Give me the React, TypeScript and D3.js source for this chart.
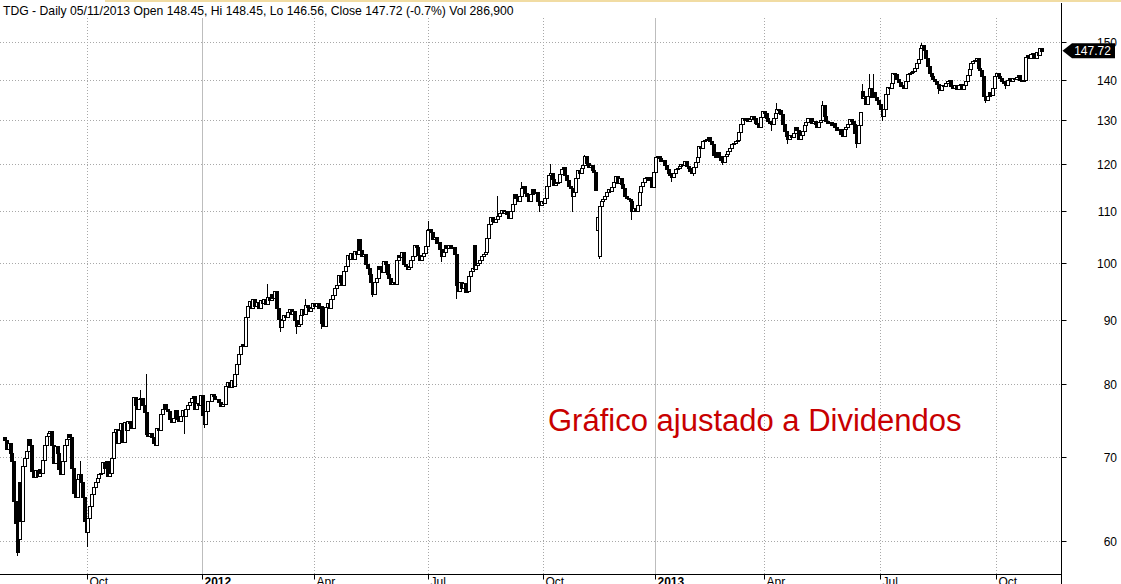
import { useEffect, useRef } from "react";
import * as d3 from "d3";

// Daily closes (dividend adjusted), one array per calendar month
const jul11 = [72.2, 71.0];
const aug11 = [71.8, 70.5, 69.5, 64.5, 62.0, 58.8, 66.8, 62.2, 68.8, 69.8, 70.8, 72.3, 71.5, 68.2, 67.5, 68.3, 67.6, 68.4, 68.0, 69.6, 71.6, 72.8, 73.2];
const sep11 = [73.4, 71.6, 69.2, 71.4, 70.5, 68.5, 67.8, 69.5, 71.5, 72.4, 73.0, 72.6, 68.6, 65.5, 65.0, 67.2, 67.8, 66.8, 65.0, 62.2, 61.0];
const oct11 = [62.5, 64.0, 65.4, 66.2, 66.8, 67.3, 67.8, 67.9, 69.3, 68.6, 69.5, 67.6, 67.9, 69.8, 73.3, 73.7, 71.8, 73.5, 74.5, 72.0, 74.6];
const nov11 = [73.5, 74.8, 74.5, 73.8, 78.2, 77.0, 76.5, 77.8, 78.0, 77.0, 76.0, 73.0, 72.8, 73.2, 72.6, 71.8, 71.5, 73.8, 73.6, 75.8, 76.5];
const dec11 = [77.2, 76.5, 76.2, 75.0, 74.6, 75.2, 76.3, 75.0, 74.8, 75.5, 76.3, 75.5, 76.5, 77.0, 77.4, 78.0, 78.3, 76.4, 77.3, 77.0, 78.5];
const jan12 = [75.6, 74.4, 76.2, 77.6, 77.5, 78.6, 78.3, 77.8, 77.9, 77.4, 76.8, 77.1, 77.2, 79.8, 80.4, 79.6, 80.6, 79.8, 81.5, 83.0];
const feb12 = [84.5, 85.8, 86.2, 85.9, 90.5, 92.4, 93.2, 92.0, 93.6, 92.4, 93.0, 92.0, 93.4, 92.8, 93.5, 92.7, 94.0, 93.4, 94.5, 93.8];
const mar12 = [95.0, 92.0, 90.2, 88.8, 90.0, 90.8, 90.6, 91.3, 91.8, 91.0, 91.6, 90.0, 89.0, 89.3, 90.8, 91.8, 91.0, 92.6, 92.2, 91.5, 92.0, 92.9];
const apr12 = [92.3, 92.8, 92.0, 92.4, 89.5, 89.0, 92.2, 92.8, 92.0, 93.6, 94.3, 95.5, 96.0, 97.8, 96.5, 96.0, 98.6, 99.5, 101.4, 100.8];
const may12 = [101.8, 100.8, 102.2, 101.6, 104.5, 102.3, 101.2, 101.6, 99.8, 99.0, 98.0, 96.5, 94.4, 96.5, 97.3, 99.5, 98.8, 98.4, 100.3, 99.8, 98.0, 97.2];
const jun12 = [96.2, 96.6, 96.2, 100.6, 101.5, 101.0, 102.0, 99.8, 99.5, 98.8, 99.2, 100.6, 101.2, 103.3, 103.0, 101.4, 100.6, 101.2, 101.8, 103.2, 106.2];
const jul12 = [106.5, 105.8, 104.4, 104.8, 103.8, 104.0, 102.5, 101.2, 102.0, 103.4, 102.8, 103.3, 102.8, 103.0, 101.6, 96.0, 95.0, 96.6, 95.5, 96.4, 94.8];
const aug12 = [95.0, 97.6, 98.5, 99.0, 98.8, 99.6, 100.0, 100.6, 101.2, 101.6, 102.0, 104.6, 107.5, 108.8, 108.0, 107.8, 108.3, 109.0, 109.6, 110.2, 109.5, 110.0, 109.4];
const sep12 = [108.6, 110.0, 111.4, 113.4, 112.6, 112.0, 113.0, 114.8, 115.2, 113.6, 113.0, 112.0, 113.5, 114.5, 113.8, 114.0, 112.0, 111.2, 112.0];
const oct12 = [111.6, 112.6, 115.2, 117.6, 118.0, 116.6, 115.4, 115.8, 116.0, 117.8, 118.8, 119.2, 117.6, 116.5, 115.2, 114.8, 113.0, 114.0, 116.8, 118.6, 118.0];
const nov12 = [119.0, 119.8, 121.6, 120.2, 119.2, 119.6, 118.6, 118.2, 114.3, 108.8, 111.0, 112.0, 112.4, 113.0, 114.0, 114.6, 114.2, 115.0, 116.0, 117.4, 115.8];
const dec12 = [116.8, 115.6, 114.8, 113.0, 112.6, 112.4, 112.0, 110.0, 110.6, 110.0, 111.2, 114.0, 115.2, 116.0, 116.8, 117.2, 116.4, 117.0, 115.0, 118.2];
const jan13 = [121.4, 121.8, 121.2, 120.6, 120.8, 119.8, 118.8, 118.0, 117.6, 117.0, 118.0, 118.8, 119.0, 119.4, 120.0, 119.8, 120.5, 119.4, 119.0, 118.4, 118.0];
const feb13 = [119.2, 120.4, 121.4, 124.0, 123.6, 125.0, 125.4, 125.6, 126.0, 125.0, 124.4, 122.0, 121.4, 122.6, 121.6, 120.8, 120.4, 121.6, 122.2];
const mar13 = [122.8, 123.4, 124.4, 124.6, 125.0, 125.4, 127.2, 129.0, 130.6, 130.0, 130.6, 129.8, 130.2, 131.0, 130.4, 129.4, 129.0, 128.4, 130.8, 132.2];
const apr13 = [131.8, 130.6, 129.8, 129.2, 129.0, 130.6, 131.6, 132.8, 132.4, 131.4, 129.0, 127.4, 126.2, 125.6, 126.6, 126.0, 127.0, 128.4, 127.6, 125.6, 126.6, 127.4];
const may13 = [128.8, 129.6, 130.4, 130.6, 129.2, 129.8, 129.0, 128.4, 129.6, 130.0, 133.6, 131.0, 129.8, 129.4, 129.6, 128.8, 129.2, 128.4, 127.6, 127.8, 126.8, 126.2];
const jun13 = [127.8, 128.4, 129.0, 130.2, 129.8, 129.0, 127.0, 124.6, 128.8, 132.0, 135.4, 135.8, 134.0, 136.0, 137.8, 135.6, 136.8, 135.6, 135.0, 133.8];
const jul13 = [132.6, 131.0, 132.8, 136.4, 138.2, 138.0, 139.2, 141.8, 141.6, 140.2, 139.4, 138.4, 138.6, 138.0, 139.6, 141.6, 141.8, 142.0, 142.4, 143.2, 144.4, 145.4];
const aug13 = [148.4, 149.3, 148.0, 145.6, 143.6, 141.8, 141.0, 140.2, 139.6, 139.0, 138.0, 137.4, 138.6, 138.4, 139.2, 139.6, 140.0, 138.4, 137.8, 138.6, 137.6, 138.8];
const sep13 = [139.0, 137.6, 138.6, 139.6, 141.2, 142.8, 144.4, 145.0, 145.2, 145.6, 143.0, 142.6, 141.0, 136.0, 135.0, 135.8, 136.8, 136.2, 138.0, 141.0];
const oct13 = [141.8, 141.0, 140.4, 139.8, 139.2, 138.6, 140.0, 140.6, 139.8, 140.4, 140.2, 140.8, 141.2, 140.0, 139.6, 140.0, 146.0, 146.6, 145.8, 146.8, 147.0, 145.8, 147.4];
const nov13 = [146.6, 148.3, 147.72];

const months = [jul11, aug11, sep11, oct11, nov11, dec11, jan12, feb12, mar12, apr12, may12, jun12,
  jul12, aug12, sep12, oct12, nov12, dec12, jan13, feb13, mar13, apr13, may13, jun13,
  jul13, aug13, sep13, oct13, nov13];
const monthLabels = ["Jul", "Aug", "Sep", "Oct", "Nov", "Dec", "2012", "Feb", "Mar", "Apr", "May", "Jun",
  "Jul", "Aug", "Sep", "Oct", "Nov", "Dec", "2013", "Feb", "Mar", "Apr", "May", "Jun",
  "Jul", "Aug", "Sep", "Oct", "Nov"];

// [bar index, open] where the open gapped away from the prior close
const gapOpens: [number, number][] = [[0, 72.6], [8, 60.2], [259, 103.4], [327, 106.3], [328, 101.2], [473, 137.2], [572, 148.45]];
// [bar index, value] for visible wicks
const wickHighs: [number, number][] = [[42, 69.5], [75, 79.1], [78, 81.5], [145, 96.1], [166, 93.6], [234, 107.9], [272, 113.0],
  [285, 116.0], [301, 120.0], [320, 122.0], [426, 134.2], [451, 134.7], [473, 139.0], [477, 141.6], [479, 141.6], [506, 149.9]];
const wickLows: [number, number][] = [[7, 58.3], [46, 59.3], [99, 73.0], [110, 73.8], [152, 88.1], [161, 87.7], [175, 88.6],
  [203, 94.0], [241, 100.2], [249, 93.5], [295, 109.8], [313, 109.8], [328, 100.8], [346, 108.2], [368, 116.0], [380, 117.4],
  [396, 119.7], [423, 127.4], [432, 124.4], [470, 123.6], [484, 129.8], [515, 136.5], [541, 134.1], [552, 137.6], [572, 146.56]];

const priceTicks = [60, 70, 80, 90, 100, 110, 120, 130, 140, 150];
const title = "TDG - Daily 05/11/2013 Open 148.45, Hi 148.45, Lo 146.56, Close 147.72 (-0.7%) Vol 286,900";
const lastClose = 147.72;
const note = "Gráfico ajustado a Dividendos";

const W = 1121;
const H = 584;
const FONT = "'Liberation Sans', Arial, sans-serif";

export default function App() {
  const svgRef = useRef<SVGSVGElement>(null);

  useEffect(() => {
    if (!svgRef.current) return;
    const svg = d3.select(svgRef.current);
    svg.selectAll("*").remove();

    const closes = months.flat();
    const n = closes.length;
    const gapMap = new Map(gapOpens);
    const hiMap = new Map(wickHighs);
    const loMap = new Map(wickLows);
    const bars = closes.map((c, i) => {
      const o = gapMap.get(i) ?? (i > 0 ? closes[i - 1] : c);
      return {
        i, o, c,
        h: Math.max(o, c, hiMap.get(i) ?? 0),
        l: Math.min(o, c, loMap.get(i) ?? Infinity),
      };
    });

    const axisX = 1061.5;
    const axisY = 574.5;
    const x = d3.scaleLinear().domain([0, n - 1]).range([4.1, 4.1 + 1.813 * (n - 1)]);
    const y = d3.scaleLog().domain([60, 150]).range([540.7, 42.3]);

    svg.append("rect").attr("width", W).attr("height", H).attr("fill", "#fff");
    svg.append("rect").attr("x", 105).attr("y", 0).attr("width", W - 105).attr("height", 2).attr("fill", "#f1dca3");

    // month ticks
    let start = 0;
    const ticks: { label: string; idx: number; year: boolean }[] = [];
    months.forEach((m, k) => {
      const lab = monthLabels[k];
      const year = /^\d{4}$/.test(lab);
      if (k > 0 && (year || lab === "Apr" || lab === "Jul" || lab === "Oct")) ticks.push({ label: lab, idx: start, year });
      start += m.length;
    });

    // Grid
    const grid = svg.append("g");
    ticks.forEach((t) => {
      const xx = Math.round(x(t.idx)) + 0.5;
      grid.append("line")
        .attr("x1", xx).attr("x2", xx).attr("y1", 18).attr("y2", axisY)
        .attr("stroke", t.year ? "#bdbdbd" : "#a8a8a8")
        .attr("stroke-dasharray", t.year ? null : "1,2");
    });
    priceTicks.forEach((p) => {
      const yy = Math.round(y(p)) + 0.5;
      grid.append("line")
        .attr("x1", 0).attr("x2", axisX).attr("y1", yy).attr("y2", yy)
        .attr("stroke", "#a8a8a8").attr("stroke-dasharray", "1,2");
    });

    // Candles: 4px bodies, hollow when up, filled when down
    const g = svg.append("g").attr("shape-rendering", "crispEdges");
    bars.forEach((b) => {
      const cx = Math.round(x(b.i));
      const yTop = Math.round(y(Math.max(b.o, b.c)));
      const yBot = Math.round(y(Math.min(b.o, b.c)));
      const yh = Math.round(y(b.h));
      const yl = Math.round(y(b.l));
      if (yh < yTop || yl > yBot) {
        g.append("rect").attr("x", cx).attr("y", yh).attr("width", 1).attr("height", Math.max(1, yl - yh)).attr("fill", "#000");
      }
      g.append("rect")
        .attr("x", cx - 0.5).attr("y", yTop + 0.5)
        .attr("width", 3).attr("height", Math.max(0, yBot - yTop))
        .attr("fill", b.c >= b.o ? "#fff" : "#000")
        .attr("stroke", "#000").attr("stroke-width", 1);
    });

    // Axes
    svg.append("line").attr("x1", 0).attr("x2", axisX).attr("y1", axisY).attr("y2", axisY).attr("stroke", "#000");
    svg.append("line").attr("x1", axisX).attr("x2", axisX).attr("y1", 3).attr("y2", H).attr("stroke", "#000");

    ticks.forEach((t) => {
      const xx = Math.round(x(t.idx)) + 0.5;
      svg.append("line").attr("x1", xx).attr("x2", xx).attr("y1", axisY).attr("y2", axisY + 5).attr("stroke", "#000");
      svg.append("text")
        .attr("x", xx + 2).attr("y", 586)
        .attr("font-family", FONT).attr("font-size", "12px")
        .attr("font-weight", t.year ? "bold" : "normal")
        .attr("fill", "#000").text(t.label);
    });

    priceTicks.forEach((p) => {
      const yy = Math.round(y(p)) + 0.5;
      svg.append("line").attr("x1", axisX).attr("x2", axisX + 5).attr("y1", yy).attr("y2", yy).attr("stroke", "#000");
      svg.append("text")
        .attr("x", 1117).attr("y", yy + 4.5)
        .attr("text-anchor", "end")
        .attr("font-family", FONT).attr("font-size", "12px")
        .attr("fill", "#000").text(p);
    });

    // Last price tag
    const yc = y(lastClose);
    svg.append("path")
      .attr("d", `M${axisX + 1},${yc} L1072,${yc - 7.5} L1115,${yc - 7.5} L1115,${yc + 7.5} L1072,${yc + 7.5} Z`)
      .attr("fill", "#000");
    svg.append("text")
      .attr("x", 1092.5).attr("y", yc + 4.3)
      .attr("text-anchor", "middle")
      .attr("font-family", FONT).attr("font-size", "12px")
      .attr("fill", "#fff").text(lastClose.toFixed(2));

    // Title
    svg.append("text")
      .attr("x", 3).attr("y", 15)
      .attr("font-family", FONT).attr("font-size", "12.2px")
      .attr("fill", "#000").text(title);

    // Note
    svg.append("text")
      .attr("x", 548).attr("y", 431)
      .attr("font-family", FONT).attr("font-size", "31px")
      .attr("fill", "#c80000").text(note);
  }, []);

  return (
    <div style={{ width: W, height: H }}>
      <style>{"body{margin:0}"}</style>
      <svg ref={svgRef} width={W} height={H} style={{ display: "block" }} />
    </div>
  );
}
